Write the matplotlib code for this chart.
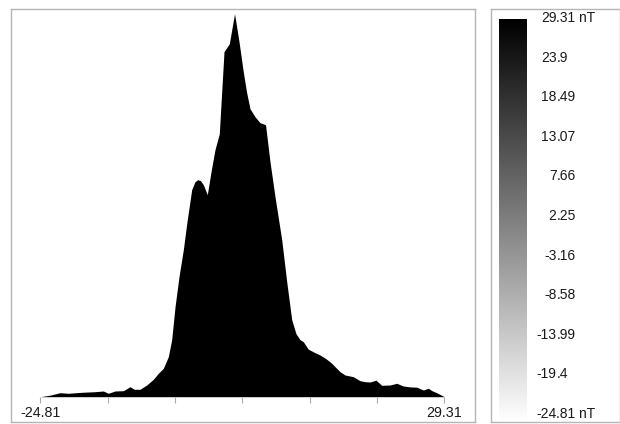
import matplotlib
matplotlib.use("Agg")
import matplotlib.pyplot as plt
import numpy as np
from matplotlib.colors import LinearSegmentedColormap

# ── data ─────────────────────────────────────────────────────────────────────
field_nT = [-24.81, -23.51, -22.17, -21.06, -19.26, -17.48, -16.37, -15.70,
            -14.80, -13.69, -12.79, -12.22, -11.45, -10.56, -9.67, -9.00,
            -8.33, -7.66, -7.21, -6.76, -6.23, -5.65, -5.16, -4.53, -4.09,
            -3.72, -3.35, -2.97, -2.44, -1.94, -1.41, -0.83, -0.47, -0.20,
            0.51, 1.21, 1.81, 2.38, 2.81, 3.28, 3.95, 4.62, 5.36, 5.96, 6.63,
            7.53, 8.20, 8.87, 9.44, 9.98, 10.42, 11.09, 11.86, 12.66, 13.46,
            14.23, 14.67, 15.34, 16.01, 17.12, 18.02, 18.69, 19.36, 20.16,
            20.92, 22.04, 22.93, 23.82, 24.72, 25.61, 26.50, 27.17, 27.66,
            28.29, 29.31]
counts = [0, 1.5, 4, 3.4, 4.4, 5, 5.7, 3.4, 5.7, 6, 10, 7.4, 7.4, 11.7, 17.4,
          23.4, 28.4, 40, 57, 90, 120, 147, 175, 207, 215, 217, 216, 212, 202,
          225, 247, 263, 310, 345, 353, 383, 355, 325, 305, 288, 280, 274, 272,
          235, 200, 157, 115, 77, 63, 57, 55, 47.5, 44.5, 41.7, 38, 33.4, 30,
          25, 21.7, 20, 16, 15, 14.7, 16.5, 11.4, 11.7, 13.4, 10.7, 9.8, 9.5,
          6.7, 8.4, 6, 4, 0]

v_min, v_max = -24.81, 29.31
scale_labels = ["29.31", "23.9", "18.49", "13.07", "7.66", "2.25", "-3.16",
                "-8.58", "-13.99", "-19.4", "-24.81"]

# ── layout helpers (pixel boxes on a 620x424 canvas) ─────────────────────────
W, H = 620, 424
FRAME = "#b4b4b4"
TEXT = "#1a1a1a"
FONT = "Liberation Sans"


def box(fig, x0, y0, x1, y1):
    """Axes placed by pixel box, y measured from the top."""
    return fig.add_axes([x0 / W, 1 - y1 / H, (x1 - x0) / W, (y1 - y0) / H])


def frame(fig, x0, y0, x1, y1):
    ax = box(fig, x0, y0, x1, y1)
    ax.set_xticks([])
    ax.set_yticks([])
    ax.patch.set_alpha(0)
    for s in ax.spines.values():
        s.set_color(FRAME)
        s.set_linewidth(1.0)
    return ax


fig = plt.figure(figsize=(W / 100, H / 100), dpi=100)
fig.patch.set_facecolor("white")

frame(fig, 10.5, 8.5, 474.5, 421.5)
frame(fig, 490.5, 8.5, 619.5, 421.5)

# ── histogram area ───────────────────────────────────────────────────────────
ax = box(fig, 40.3, 14, 444.3, 396.7)
ax.fill_between(field_nT, counts, 0, color="black", linewidth=0)
ax.set_xlim(v_min, v_max)
ax.set_ylim(0, 382.7)
ax.patch.set_alpha(0)
for s in ax.spines.values():
    s.set_visible(False)
ax.set_yticks([])
ticks = np.linspace(v_min, v_max, 7)
ax.set_xticks(ticks)
ax.set_xticklabels([])
ax.tick_params(axis="x", length=4.6, width=0.8, color="#aaaaaa", pad=0)
ax.text(v_min, -16.5, "-24.81", ha="center", va="center",
        fontsize=10.3, family=FONT, color=TEXT)
ax.text(v_max, -16.5, "29.31", ha="center", va="center",
        fontsize=10.3, family=FONT, color=TEXT)

# ── grey scale bar ───────────────────────────────────────────────────────────
cmap = LinearSegmentedColormap.from_list("bw", ["#ffffff", "#000000"])
cax = box(fig, 499.3, 19.3, 527.3, 421)
grad = np.linspace(0, 1, 256).reshape(-1, 1)
cax.imshow(grad, cmap=cmap, aspect="auto", origin="lower",
           extent=[0, 1, 0, 1])
cax.set_axis_off()

# labels, aligned on the decimal point
lax = box(fig, 530, 18, 619, 414)
lax.set_xlim(530, 619)
lax.set_ylim(v_min, v_max)
lax.set_axis_off()
x_dec = 556.5
for i, lab in enumerate(scale_labels):
    y = v_max - i * (v_max - v_min) / (len(scale_labels) - 1)
    whole, frac = lab.split(".")
    tail = "." + frac
    if i in (0, len(scale_labels) - 1):
        tail += " nT"
    lax.text(x_dec, y, whole, ha="right", va="center",
             fontsize=10, family=FONT, color=TEXT)
    lax.text(x_dec, y, tail, ha="left", va="center",
             fontsize=10, family=FONT, color=TEXT)

fig.savefig("out.png", dpi=100, facecolor="white")
